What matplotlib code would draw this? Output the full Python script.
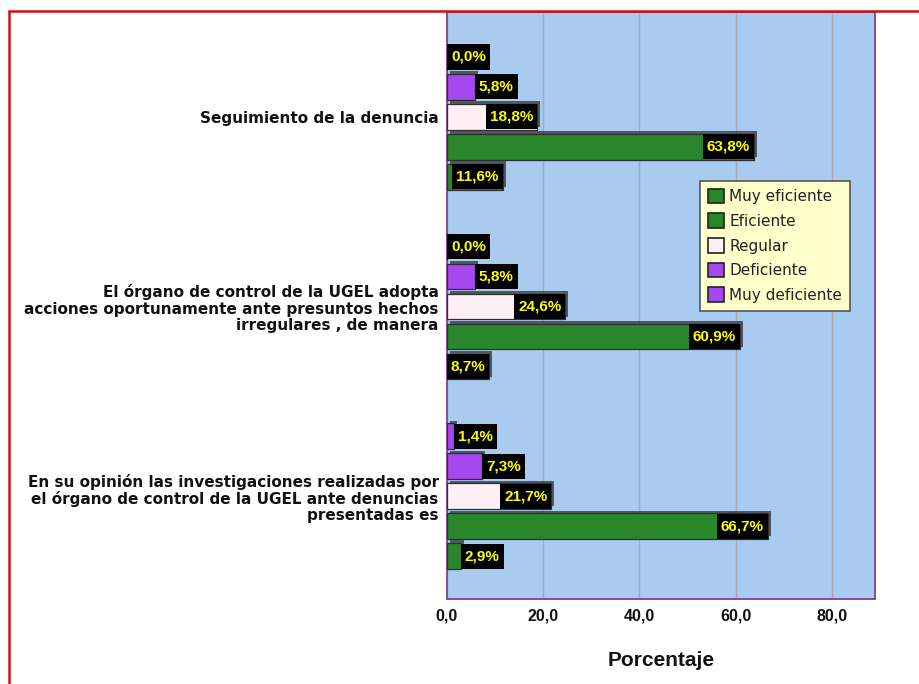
import matplotlib
matplotlib.use("Agg")
import matplotlib.pyplot as plt
import matplotlib.patheffects as pe
from matplotlib.patches import Rectangle, Patch
import numpy as np

plt.rcParams['font.family'] = ['Liberation Sans', 'DejaVu Sans']

# Items, top to bottom
items = [
    "Seguimiento de la denuncia",
    "El órgano de control de la UGEL adopta\nacciones oportunamente ante presuntos hechos\nirregulares , de manera",
    "En su opinión las investigaciones realizadas por\nel órgano de control de la UGEL ante denuncias\npresentadas es",
]
# Response categories, drawn top to bottom inside each group
categories = ["Muy deficiente", "Deficiente", "Regular", "Eficiente", "Muy eficiente"]
legend_order = ["Muy eficiente", "Eficiente", "Regular", "Deficiente", "Muy deficiente"]

# Percentages per category (same order as `categories`), one list per item
muy_deficiente = [0.0, 0.0, 1.4]
deficiente = [5.8, 5.8, 7.3]
regular = [18.8, 24.6, 21.7]
eficiente = [63.8, 60.9, 66.7]
muy_eficiente = [11.6, 8.7, 2.9]
series = [muy_deficiente, deficiente, regular, eficiente, muy_eficiente]

xticks = [0, 20, 40, 60, 80]
xtick_labels = ["0,0", "20,0", "40,0", "60,0", "80,0"]

colors = {
    "Muy deficiente": "#a548ef",
    "Deficiente": "#a548ef",
    "Regular": "#fff0f6",
    "Eficiente": "#29862a",
    "Muy eficiente": "#29862a",
}

W, H = 919, 684
fig = plt.figure(figsize=(W / 100, H / 100), dpi=100)
ax = fig.add_axes([447 / W, 1 - 599 / H, (875 - 447) / W, (599 - 12) / H])
ax.set_facecolor("#a9cbf0")

group_step = 6.33
offsets = np.array([-2, -1, 0, 1, 2])
bar_h = 0.86

shadow = [pe.SimplePatchShadow(offset=(2, 2), shadow_rgbFace="#3c3c3c", alpha=0.8), pe.Normal()]

bars_info = []
for gi, item in enumerate(items):
    center = gi * group_step
    for ci, cat in enumerate(categories):
        val = series[ci][gi]
        y = center + offsets[ci]
        rects = ax.barh(y, val, height=bar_h, color=colors[cat], edgecolor="#2e2e2e",
                        linewidth=0.9, zorder=3)
        for r in rects:
            r.set_path_effects(shadow)
        bars_info.append((y, val))

ax.set_xlim(0, 89)
ax.set_ylim(2 * group_step + 3.43, -3.5)

ax.set_xticks(xticks)
ax.set_xticklabels(xtick_labels, fontsize=11.5, fontweight="bold", color="#111111")
ax.set_yticks([gi * group_step for gi in range(len(items))])
ax.set_yticklabels(items, fontsize=11, fontweight="bold", multialignment="right",
                   family="DejaVu Sans", linespacing=1.1, color="#111111")
ax.tick_params(axis="both", length=0)
ax.tick_params(axis="y", pad=6)
ax.tick_params(axis="x", pad=7)
ax.xaxis.grid(True, color="#a8a8b8", linewidth=1.0, zorder=0)
ax.set_axisbelow(True)
for s in ax.spines.values():
    s.set_color("#8b3c98")
    s.set_linewidth(1.3)

ax.set_xlabel("Porcentaje", fontsize=15, fontweight="bold", labelpad=20, color="#111111")

# Value labels on black boxes, flush with the bar end:
# inside the bar when the box fits, just past the end otherwise
label_fs = 11
hpad_px = 4.0
box_h = 0.84
fig.canvas.draw()
renderer = fig.canvas.get_renderer()
px_per_x = ax.transData.transform((1, 0))[0] - ax.transData.transform((0, 0))[0]
for y, val in bars_info:
    txt = "{:.1f}%".format(val).replace(".", ",")
    t = ax.text(val, y, txt, fontsize=label_fs, fontweight="bold", color="#ffff00",
                va="center", ha="center", zorder=6)
    text_w = t.get_window_extent(renderer).width
    box_w = (text_w + 2 * hpad_px) / px_per_x
    if box_w * px_per_x > val * px_per_x + 3:
        x0 = val
    else:
        x0 = val - box_w
    t.set_x(x0 + box_w / 2)
    ax.add_patch(Rectangle((x0, y - box_h / 2), box_w, box_h, facecolor="black",
                           edgecolor="none", zorder=5))

handles = [Patch(facecolor=colors[c], edgecolor="#222222", linewidth=1.2) for c in legend_order]
leg = fig.legend(handles, legend_order, loc="upper left", bbox_to_anchor=(700 / W, 1 - 181 / H),
                 prop={"family": "DejaVu Sans", "size": 11}, frameon=True, fancybox=False,
                 handlelength=1.05, handleheight=1.1,
                 handletextpad=0.35, labelspacing=0.6, borderpad=0.5, borderaxespad=0)
leg.get_frame().set_facecolor("#ffffcc")
leg.get_frame().set_edgecolor("#555555")
leg.get_frame().set_linewidth(1.2)
leg.get_frame().set_alpha(1)
for txt in leg.get_texts():
    txt.set_color("#222222")

# Outer red frame
fig.patches.append(Rectangle((9 / W, -0.1), 1.2, 1 - 11 / H + 0.1, transform=fig.transFigure,
                             fill=False, edgecolor="#cc1111", linewidth=1.8, zorder=10))

fig.savefig("out.png", dpi=100)
